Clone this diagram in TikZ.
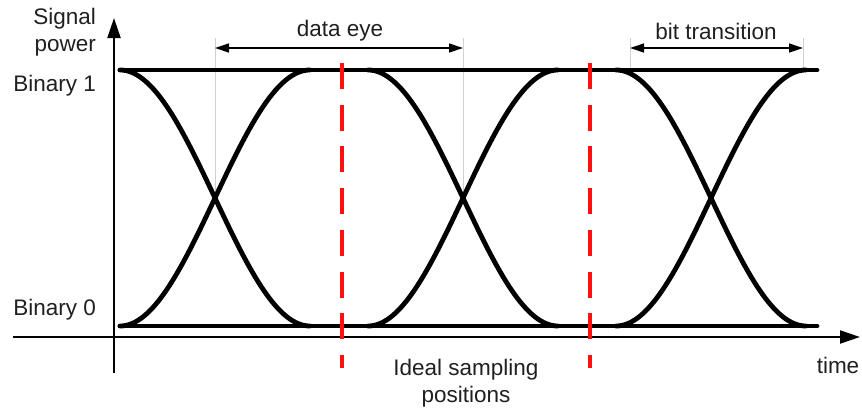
\documentclass[tikz,border=0pt]{standalone}
\usepackage{fontspec}
\setmainfont{Liberation Sans}
\usetikzlibrary{arrows.meta}
\definecolor{txt}{HTML}{202020}
\definecolor{guide}{HTML}{D0D0D0}
\definecolor{samp}{HTML}{FF1010}
\tikzset{
  lbl/.style={text=txt, font=\fontsize{22.5}{27}\selectfont, inner sep=0pt},
  axis/.style={line width=2pt, -{Triangle[length=20pt,width=13pt]}},
  sig/.style={line width=4.8pt, line cap=round, line join=round},
  guideline/.style={guide, line width=1pt},
  dimarrow/.style={line width=1.3pt, {Triangle[length=14pt,width=9pt]}-{Triangle[length=14pt,width=9pt]}},
  sampline/.style={samp, line width=3.2pt, dash pattern=on 26pt off 15.7pt}
}
\begin{document}
\begin{tikzpicture}[x=1pt, y=-1pt]
\useasboundingbox (0,0) rectangle (862,410);
% axes
\coordinate (yb) at (114,373);
\coordinate (yt) at (114,18);
\coordinate (xl) at (13,337);
\coordinate (xr) at (860,337);
\draw[axis] (yb) -- (yt);
\draw[axis] (xl) -- (xr);
% guide lines
\coordinate (g1t) at (215,38); \coordinate (g1b) at (215,198);
\coordinate (g2t) at (463,38); \coordinate (g2b) at (463,198);
\coordinate (g3t) at (630,38); \coordinate (g3b) at (630,70);
\coordinate (g4t) at (803,38); \coordinate (g4b) at (803,70);
\draw[guideline] (g1t) -- (g1b);
\draw[guideline] (g2t) -- (g2b);
\draw[guideline] (g3t) -- (g3b);
\draw[guideline] (g4t) -- (g4b);
% dimension arrows
\coordinate (d1l) at (215,48); \coordinate (d1r) at (463,48);
\coordinate (d2l) at (630,48); \coordinate (d2r) at (803,48);
\draw[dimarrow] (d1l) -- (d1r);
\draw[dimarrow] (d2l) -- (d2r);
% levels
\coordinate (h1l) at (120,70); \coordinate (h1r) at (817,70);
\coordinate (h0l) at (120,326); \coordinate (h0r) at (817,326);
\draw[sig] (h1l) -- (h1r);
\draw[sig] (h0l) -- (h0r);
% transitions
\foreach \cc in {215,463,711} {
  \draw[sig] plot[domain=-95:95, samples=96] ({\cc+\x},{198-128*cos(90*(\x/95+1))});
  \draw[sig] plot[domain=-95:95, samples=96] ({\cc+\x},{198+128*cos(90*(\x/95+1))});
}
% sampling lines
\coordinate (s1t) at (342,63); \coordinate (s1b) at (342,368);
\coordinate (s2t) at (590,63); \coordinate (s2b) at (590,368);
\draw[sampline] (s1t) -- (s1b);
\draw[sampline] (s2t) -- (s2b);
% labels
\node[lbl, align=right, anchor=east] (sp) at (96,32) {Signal\\power};
\node[lbl, anchor=east] (b1) at (96,86) {Binary 1};
\node[lbl, anchor=east] (b0) at (96,310) {Binary 0};
\node[lbl] (de) at (340,31) {data eye};
\node[lbl] (bt) at (716,31) {bit transition};
\node[lbl] (tm) at (838,365) {time};
\node[lbl, align=center] (isp) at (466,383) {Ideal sampling\\positions};
\end{tikzpicture}
\end{document}
